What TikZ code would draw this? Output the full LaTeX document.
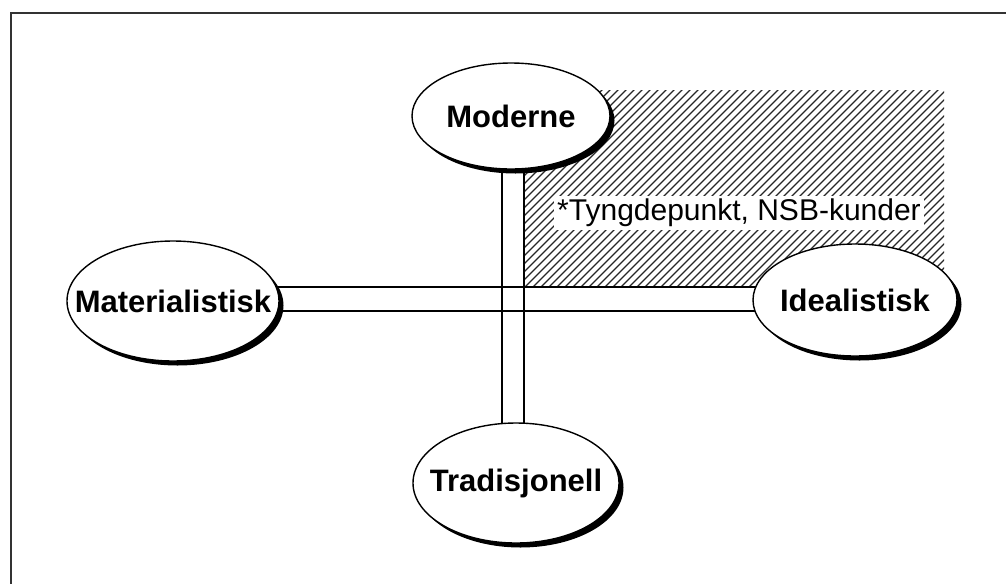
\documentclass[tikz,border=0pt]{standalone}
\usepackage{fontspec}
\setmainfont{Liberation Sans}
\usetikzlibrary{shapes.geometric,shadows}
\pgfdeclarelayer{background}
\pgfsetlayers{background,main}
\begin{document}
\begin{tikzpicture}[x=1pt,y=-1pt,
  pole/.style={ellipse, draw, line width=1.4pt, fill=white, inner sep=0pt,
    drop shadow={shadow xshift=4.5pt, shadow yshift=-4.5pt, fill=black, opacity=1}},
  polename/.style={inner sep=0pt, font=\fontsize{31}{36}\selectfont\bfseries},
  bar/.style={line width=1.2pt},
  frameline/.style={line width=1.8pt, black!80},
  hatch/.style={line width=1.3pt, black!85},
  note/.style={fill=white, inner xsep=3pt, inner ysep=3pt,
    font=\fontsize{30}{34}\selectfont}]
\useasboundingbox (0,0) rectangle (1006,584);

% outer frame
\draw[frameline] (1006,13) -- (11,13) -- (11,584);

% the four poles
\node[pole, minimum width=198pt, minimum height=106pt] (mod) at (511,116) {};
\node[pole, minimum width=212pt, minimum height=120pt] (mat) at (173,301) {};
\node[pole, minimum width=204pt, minimum height=112pt] (ide) at (855,300) {};
\node[pole, minimum width=206pt, minimum height=120pt] (tra) at (516,483) {};
\node[polename] (modt) at (mod.center) {Moderne};
\node[polename] (matt) at (mat.center) {Materialistisk};
\node[polename] (idet) at (ide.center) {Idealistisk};
\node[polename] (trat) at (tra.center) {Tradisjonell};

\begin{pgfonlayer}{background}
  % hatched quadrant
  \begin{scope}
    \clip (524,90) rectangle (944,287);
    \foreach \s in {320,328,...,960}
      \draw[hatch] (\s,300) -- ++(230,-230);
  \end{scope}
  % axis bars
  \draw[bar] ([yshift=14pt]mat.center) -- ([yshift=13pt]ide.center);
  \draw[bar] ([yshift=-10pt]mat.center) -- ([yshift=-11pt]ide.center);
  \draw[bar] ([xshift=-9pt]mod.center) -- ([xshift=-14pt]tra.center);
  \draw[bar] ([xshift=13pt]mod.center) -- ([xshift=8pt]tra.center);
\end{pgfonlayer}

% label in the hatched quadrant
\node[note] (tp) at (739,213) {*Tyngdepunkt, NSB-kunder};
\end{tikzpicture}
\end{document}
